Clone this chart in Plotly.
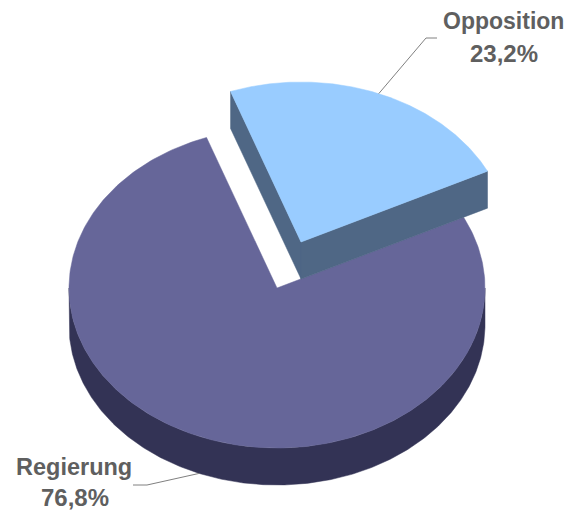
import numpy as np
import plotly.graph_objects as go

categories = ["Opposition", "Regierung"]
values = [23.2, 76.8]
value_labels = ["23,2%", "76,8%"]

START_ANGLE = -19.8
CX, CY = 277, 288
EXPLODE = (24, -46)
RX, RY = 208, 160
DEPTH = 37
TOP = ["#99CCFF", "#666699"]
SIDE = ["#4F6785", "#333355"]
TEXT_COLOR = "#5F5F5F"
LINE_COLOR = "#808080"


def pt(cx, cy, deg, dy=0):
    a = np.radians(deg)
    return cx + RX * np.sin(a), cy - RY * np.cos(a) + dy


def arc(cx, cy, a0, a1, dy=0):
    t = np.linspace(a0, a1, 300)
    return pt(cx, cy, t, dy)


def poly(fig, xs, ys, color, name):
    fig.add_trace(go.Scatter(x=np.append(xs, xs[0]), y=np.append(ys, ys[0]), mode="lines",
                             fill="toself", fillcolor=color, line=dict(color=color, width=0.5),
                             hoverinfo="skip", name=name, showlegend=False))


angles = np.cumsum([0] + [v / sum(values) * 360 for v in values]) + START_ANGLE
a_opp0, a_opp1, a_reg1 = angles
ox, oy = CX + EXPLODE[0], CY + EXPLODE[1]

fig = go.Figure()

# Regierung: rim, then top
x0, y0 = arc(CX, CY, 90, 270)
x1, y1 = arc(CX, CY, 270, 90, DEPTH)
poly(fig, np.r_[x0, x1], np.r_[y0, y1], SIDE[1], categories[1] + " rim")
x, y = arc(CX, CY, a_opp1, a_reg1)
poly(fig, np.r_[CX, x], np.r_[CY, y], TOP[1], categories[1])

# Opposition: two cut walls, then top
for a in (a_opp0, a_opp1):
    px, py = pt(ox, oy, a)
    poly(fig, np.array([ox, px, px, ox]), np.array([oy, py, py + DEPTH, oy + DEPTH]),
         SIDE[0], categories[0] + " wall")
x, y = arc(ox, oy, a_opp0, a_opp1)
poly(fig, np.r_[ox, x], np.r_[oy, y], TOP[0], categories[0])

# Leader lines start on the rim at each slice's middle angle
lx, ly = pt(ox, oy, (a_opp0 + a_opp1) / 2)
fig.add_trace(go.Scatter(x=[lx, 426, 437], y=[ly, 38, 38], mode="lines",
                         line=dict(color=LINE_COLOR, width=1), hoverinfo="skip", showlegend=False))
lx, ly = pt(CX, CY, (a_opp1 + a_reg1) / 2, DEPTH)
fig.add_trace(go.Scatter(x=[lx, 147, 133], y=[ly, 485, 485], mode="lines",
                         line=dict(color=LINE_COLOR, width=1), hoverinfo="skip", showlegend=False))

labels = [(503, 21, categories[0], 23), (504, 53, value_labels[0], 24),
          (74, 467, categories[1], 23.5), (75, 497.5, value_labels[1], 24)]
for tx, ty, s, size in labels:
    fig.add_annotation(x=tx, y=ty, text=f"<b>{s}</b>", showarrow=False, borderpad=0,
                       font=dict(family="Liberation Sans", size=size, color=TEXT_COLOR),
                       xanchor="center", yanchor="middle")

fig.update_layout(width=568, height=512, margin=dict(l=0, r=0, t=0, b=0),
                  paper_bgcolor="white", plot_bgcolor="white", showlegend=False,
                  xaxis=dict(range=[0, 568], visible=False),
                  yaxis=dict(range=[512, 0], visible=False))
fig.write_html("out.html", config=dict(displayModeBar=False),
               post_script="document.body.style.margin='0';document.documentElement.style.overflow='hidden';")
